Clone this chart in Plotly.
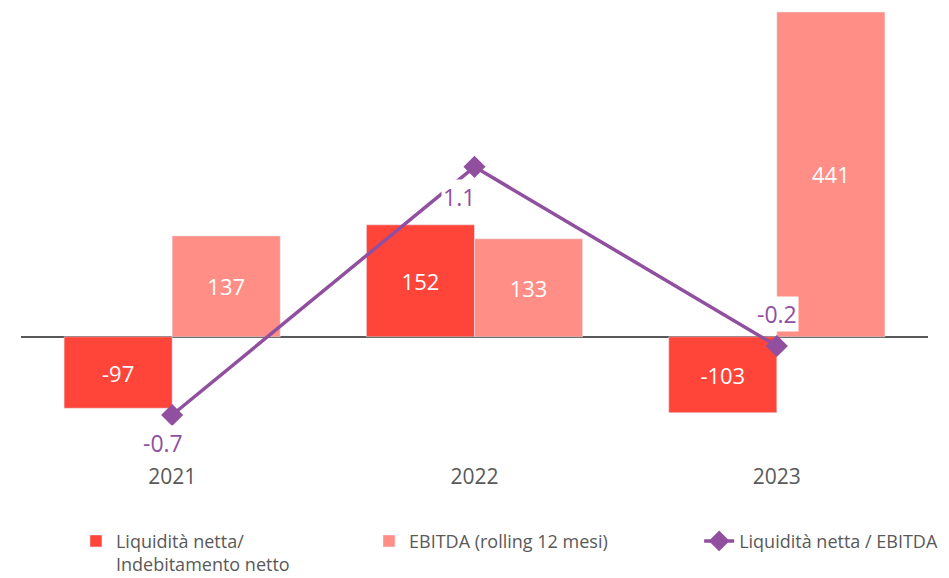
import plotly.graph_objects as go

years = ["2021", "2022", "2023"]
liquidita = [-97, 152, -103]
ebitda = [137, 133, 441]
ratio = [-0.7, 1.1, -0.2]
ratio_labels = ["-0.7", "1.1", "-0.2"]

name_liq = "Liquidità netta/<br>Indebitamento netto"
name_ebitda = "EBITDA (rolling 12 mesi)"
name_ratio = "Liquidità netta / EBITDA"

RED = "#FF453A"
PINK = "#FF8E86"
PURPLE = "#914FA0"
GREY = "#595959"
FONT = "Open Sans"

xpos = list(range(len(years)))

fig = go.Figure()
fig.add_trace(go.Bar(x=xpos, y=liquidita, name=name_liq, marker_color=RED,
                     text=[str(v) for v in liquidita], textposition="inside",
                     insidetextanchor="middle", textangle=0, legend="legend",
                     textfont=dict(color="white", size=22, family=FONT)))
fig.add_trace(go.Bar(x=xpos, y=ebitda, name=name_ebitda, marker_color=PINK,
                     text=[str(v) for v in ebitda], textposition="inside",
                     insidetextanchor="middle", textangle=0, legend="legend2",
                     textfont=dict(color="white", size=22, family=FONT)))
fig.add_trace(go.Scatter(x=xpos, y=ratio, name=name_ratio, yaxis="y2",
                         mode="lines+markers", legend="legend3",
                         line=dict(color=PURPLE, width=3.5),
                         marker=dict(symbol="diamond", size=17, color=PURPLE)))

shifts = [(-9, -28), (-16, -30), (0, 32)]
for xp, v, lab, (dx, dy) in zip(xpos, ratio, ratio_labels, shifts):
    fig.add_annotation(x=xp, y=v, xref="x", yref="y2", text=lab, showarrow=False,
                       xshift=dx, yshift=dy, bgcolor="white", borderpad=1,
                       font=dict(color=PURPLE, size=23, family=FONT))

leg_common = dict(orientation="h", xanchor="left", y=-0.135, yanchor="top",
                  font=dict(size=18, color=GREY, family=FONT), valign="top",
                  bgcolor="rgba(0,0,0,0)")

# page body has an 8px default margin, so the figure is offset by 8px
fig.update_layout(
    width=949, height=578,
    margin=dict(l=13, r=29, t=4, b=124, autoexpand=False),
    plot_bgcolor="white", paper_bgcolor="white",
    barmode="group", bargap=0.285, bargroupgap=0,
    font=dict(family=FONT, color=GREY),
    xaxis=dict(range=[-0.5, len(years) - 0.5], tickmode="array", tickvals=xpos,
               ticktext=years, showgrid=False, showline=False, ticks="",
               zeroline=False,
               tickfont=dict(size=21, color=GREY, family=FONT)),
    yaxis=dict(range=[-170, 441], showgrid=False, showticklabels=False,
               zeroline=True, zerolinecolor=GREY, zerolinewidth=2, ticks=""),
    yaxis2=dict(range=[-1.041, 2.223], overlaying="y", visible=False,
                showgrid=False, zeroline=False),
    legend=dict(x=0.0606, **leg_common),
    legend2=dict(x=0.3837, **leg_common),
    legend3=dict(x=0.7477, **leg_common),
    showlegend=True,
)

fig.write_html("out.html")
